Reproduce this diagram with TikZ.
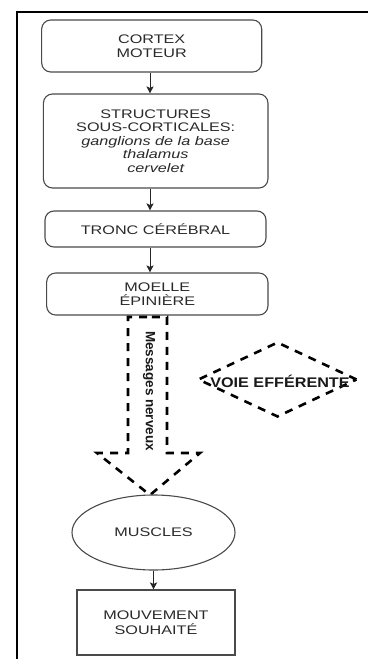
\documentclass[tikz,border=0pt]{standalone}
\usepackage{fontspec}
\setmainfont{Liberation Sans}[FakeStretch=1.3]
\newfontfamily\msgfont{Liberation Sans}
\newfontfamily\voiefont{Liberation Sans}[FakeStretch=1.16]
\usetikzlibrary{arrows.meta,shapes.geometric}
\definecolor{txt}{HTML}{2A2A2A}
\definecolor{bord}{HTML}{4A4A4A}
\begin{document}
\begin{tikzpicture}[x=1bp,y=-1bp,
  box/.style={draw=bord, line width=1.1bp, rounded corners=9bp, text=txt, align=center, inner sep=0pt,
    font=\fontsize{12.5}{14.5}\selectfont},
  arr/.style={draw=black!85, line width=1bp, -{Stealth[length=7bp,width=7bp,inset=1.5bp]}},
  bigdash/.style={draw=black, line width=2.6bp, dash pattern=on 8bp off 7bp, line join=miter}]
\useasboundingbox (0,0) rectangle (367,659);
\fill[white] (0,0) rectangle (367,659);
\draw[line width=2bp] (17,660) -- (17,12) -- (368,12);

\node[box, minimum width=220bp, minimum height=52bp] (cortex) at (151.7,46) {CORTEX\\MOTEUR};
\node[box, minimum width=224.5bp, minimum height=94bp, font=\fontsize{12.5}{13.6}\selectfont] (struct) at (155.7,141)
  {STRUCTURES\\SOUS-CORTICALES:\\\itshape ganglions de la base\\\itshape thalamus\\\itshape cervelet};
\node[box, minimum width=221bp, minimum height=36bp] (tronc) at (155.5,229) {TRONC CÉRÉBRAL};
\node[box, minimum width=221.3bp, minimum height=42bp] (moelle) at (157.3,294) {MOELLE\\ÉPINIÈRE};

\coordinate (ax) at (150,0);
\draw[arr] (cortex.south -| ax) -- (struct.north -| ax);
\draw[arr] (struct.south -| ax) -- (tronc.north -| ax);
\draw[arr] (tronc.south -| ax) -- (moelle.north -| ax);

% dashed block arrow
\draw[bigdash] (147,317) -- (128,317) -- (128,453) -- (97,453) -- (150,495) -- (200,453) -- (167,453) -- (167,317) -- cycle;
\node[rotate=-90, font=\msgfont\bfseries\fontsize{13.5}{15}\selectfont, text=black!90] (msg) at (149,391) {Messages nerveux};

% diamond
\node[diamond, bigdash, minimum width=159bp, minimum height=75bp, inner sep=0pt] (voie) at (277.5,379.5) {};
\node[font=\voiefont\bfseries\fontsize{14}{16}\selectfont, text=black!90, inner sep=0pt] (voietxt) at ([xshift=2.5bp,yshift=-2bp]voie.center) {VOIE EFFÉRENTE};

\node[ellipse, draw=bord, line width=1.1bp, minimum width=163bp, minimum height=75bp, inner sep=0pt,
  text=txt, font=\fontsize{12.5}{14.5}\selectfont] (muscles) at (153.5,532.5) {MUSCLES};
\node[box, rounded corners=0pt, minimum width=158bp, minimum height=65bp] (mouv) at (156,622.5) {MOUVEMENT\\SOUHAITÉ};
\draw[arr] (muscles.south) -- (mouv.north -| muscles.south);
\end{tikzpicture}
\end{document}
